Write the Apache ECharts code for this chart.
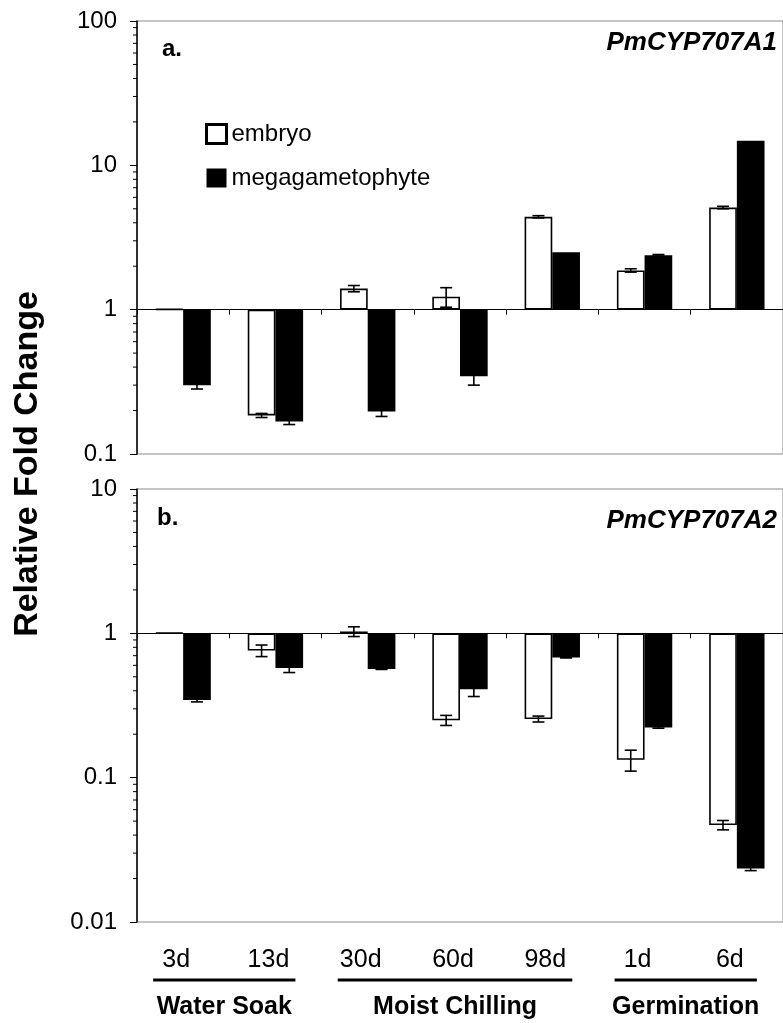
<!DOCTYPE html>
<html>
<head>
<meta charset="utf-8">
<script src="https://cdn.jsdelivr.net/npm/echarts@6/dist/echarts.min.js"></script>
<style>
  html, body { margin: 0; padding: 0; background: #fff; }
  #main { width: 783px; height: 1023px; }
</style>
</head>
<body>
<div id="main"></div>
<script>
// Sampling points (days in each treatment)
const categories = ['3d', '13d', '30d', '60d', '98d', '1d', '6d'];

// Treatment stages: name and first/last category index
const stageNames = ['Water Soak', 'Moist Chilling', 'Germination'];
const stageFirst = [0, 2, 5];
const stageLast = [1, 4, 6];

// Panel a: PmCYP707A1 relative fold change (mean and error)
const a1Embryo = [1.01, 0.185, 1.40, 1.23, 4.4, 1.87, 5.1];
const a1EmbryoErr = [0, 0.006, 0.07, 0.19, 0.08, 0.05, 0.1];
const a1Mega = [0.30, 0.168, 0.197, 0.345, 2.5, 2.38, 14.8];
const a1MegaErr = [0.018, 0.008, 0.015, 0.045, 0, 0.03, 0];

// Panel b: PmCYP707A2 relative fold change (mean and error)
const a2Embryo = [1.01, 0.76, 1.03, 0.25, 0.255, 0.133, 0.047];
const a2EmbryoErr = [0, 0.07, 0.08, 0.02, 0.012, 0.022, 0.0035];
const a2Mega = [0.345, 0.575, 0.567, 0.41, 0.68, 0.223, 0.0235];
const a2MegaErr = [0.01, 0.04, 0.005, 0.045, 0.005, 0.003, 0.0008];

// Log axis ranges for the two panels
const panelMin = [0.1, 0.01];
const panelMax = [100, 10];

const FONT = '"Liberation Sans", Arial, Helvetica, sans-serif';
const GRID_LEFT = 137, GRID_W = 653, GRID_H = 433;
const GRID_TOP = [21, 489];

// offset (px) that moves an x axis from the grid edge onto the value 1
function oneOffset(p, fromTop) {
  const lo = Math.log10(panelMin[p]), hi = Math.log10(panelMax[p]);
  const frac = fromTop ? (hi - 0) / (hi - lo) : (0 - lo) / (hi - lo);
  return -GRID_H * frac;
}

// minor log ticks (2..9 within each decade)
function minorTickValues(p) {
  const out = [];
  for (let e = Math.log10(panelMin[p]); e < Math.log10(panelMax[p]) - 1e-9; e++) {
    for (let m = 2; m <= 9; m++) out.push(m * Math.pow(10, e));
  }
  return out;
}

function errData(values, errs, side) {
  const out = [];
  values.forEach((v, i) => { if (errs[i] > 0) out.push([i, v, errs[i], side]); });
  return out;
}

function renderErr(params, api) {
  const cat = api.value(0), v = api.value(1), e = api.value(2), side = api.value(3);
  const band = api.coord([1, 1])[0] - api.coord([0, 1])[0];
  const hi = api.coord([cat, v + e]);
  const lo = api.coord([cat, v - e]);
  const x = hi[0] + side * band * 0.15;
  const cap = 6;
  const st = { stroke: '#000', lineWidth: 1.6 };
  return {
    type: 'group',
    children: [
      { type: 'line', shape: { x1: x, y1: hi[1], x2: x, y2: lo[1] }, style: st },
      { type: 'line', shape: { x1: x - cap, y1: hi[1], x2: x + cap, y2: hi[1] }, style: st },
      { type: 'line', shape: { x1: x - cap, y1: lo[1], x2: x + cap, y2: lo[1] }, style: st }
    ]
  };
}

function renderMinor(params, api) {
  const v = api.value(0);
  const band = api.coord([1, 1])[0] - api.coord([0, 1])[0];
  const pt = api.coord([0, v]);
  const x = pt[0] - band / 2;
  return { type: 'line', shape: { x1: x - 4, y1: pt[1], x2: x, y2: pt[1] }, style: { stroke: '#000', lineWidth: 1 } };
}

const embryoStyle = { color: '#fff', borderColor: '#000', borderWidth: 1.6 };
const megaStyle = { color: '#000' };

function barSeries(name, data, xi, style) {
  return {
    name: name, type: 'bar', xAxisIndex: xi, yAxisIndex: xi === 0 ? 0 : 1,
    data: data, barWidth: '30%', barGap: '0%', itemStyle: style,
    emphasis: { disabled: true }, animation: false, z: 2
  };
}

const yAxisCommon = {
  type: 'log', logBase: 10,
  axisLine: { show: true, lineStyle: { color: '#000', width: 1.5 } },
  axisTick: { show: true, length: 7, lineStyle: { color: '#000', width: 1 } },
  axisLabel: { fontSize: 24, color: '#000', margin: 20, fontFamily: FONT },
  splitLine: { show: false }
};

const option = {
  backgroundColor: '#fff',
  animation: false,
  grid: [
    { left: GRID_LEFT, top: GRID_TOP[0], width: GRID_W, height: GRID_H, show: true, borderColor: '#8a8a8a', borderWidth: 1 },
    { left: GRID_LEFT, top: GRID_TOP[1], width: GRID_W, height: GRID_H, show: true, borderColor: '#8a8a8a', borderWidth: 1 }
  ],
  legend: {
    orient: 'vertical', left: 205, top: 122, padding: 0,
    itemWidth: 20, itemHeight: 19, itemGap: 20,
    textStyle: { fontSize: 24, color: '#000', fontFamily: FONT },
    data: [
      { name: 'embryo', icon: 'rect', itemStyle: { color: '#fff', borderColor: '#000', borderWidth: 3 } },
      { name: 'megagametophyte', icon: 'rect', itemStyle: { color: '#000' } }
    ],
    selectedMode: false
  },
  xAxis: [
    {
      gridIndex: 0, type: 'category', data: categories, position: 'bottom', offset: oneOffset(0, false),
      axisLine: { onZero: false, lineStyle: { color: '#000', width: 1 } },
      axisTick: { show: true, inside: false, length: 5, lineStyle: { color: '#000' } },
      axisLabel: { show: false }, z: 5
    },
    {
      gridIndex: 1, type: 'category', data: categories, position: 'top', offset: oneOffset(1, true),
      axisLine: { onZero: false, lineStyle: { color: '#000', width: 1 } },
      axisTick: { show: true, inside: true, length: 5, lineStyle: { color: '#000' } },
      axisLabel: { show: false }, z: 5
    },
    {
      gridIndex: 1, type: 'category', data: categories, position: 'bottom',
      axisLine: { show: false, onZero: false }, axisTick: { show: false },
      axisLabel: { fontSize: 25, color: '#000', margin: 26, fontFamily: FONT, padding: [0, 14, 0, 0] }
    }
  ],
  yAxis: [
    Object.assign({}, yAxisCommon, { gridIndex: 0, min: panelMin[0], max: panelMax[0] }),
    Object.assign({}, yAxisCommon, { gridIndex: 1, min: panelMin[1], max: panelMax[1] })
  ],
  series: [
    barSeries('embryo', a1Embryo, 0, embryoStyle),
    barSeries('megagametophyte', a1Mega, 0, megaStyle),
    barSeries('embryo', a2Embryo, 1, embryoStyle),
    barSeries('megagametophyte', a2Mega, 1, megaStyle),
    { type: 'custom', xAxisIndex: 0, yAxisIndex: 0, renderItem: renderErr, data: errData(a1Embryo, a1EmbryoErr, -1), z: 4, silent: true },
    { type: 'custom', xAxisIndex: 0, yAxisIndex: 0, renderItem: renderErr, data: errData(a1Mega, a1MegaErr, 1), z: 4, silent: true },
    { type: 'custom', xAxisIndex: 1, yAxisIndex: 1, renderItem: renderErr, data: errData(a2Embryo, a2EmbryoErr, -1), z: 4, silent: true },
    { type: 'custom', xAxisIndex: 1, yAxisIndex: 1, renderItem: renderErr, data: errData(a2Mega, a2MegaErr, 1), z: 4, silent: true },
    { type: 'custom', xAxisIndex: 0, yAxisIndex: 0, renderItem: renderMinor, data: minorTickValues(0).map(v => [v]), encode: { y: 0 }, silent: true },
    { type: 'custom', xAxisIndex: 1, yAxisIndex: 1, renderItem: renderMinor, data: minorTickValues(1).map(v => [v]), encode: { y: 0 }, silent: true }
  ]
};

const chart = echarts.init(document.getElementById('main'), null, { renderer: 'canvas' });
chart.setOption(option);

// Panel letters, gene names, y-axis title and stage brackets under the x labels
const graphics = [
  { type: 'text', left: 162, top: 37, style: { text: 'a.', font: 'bold 24px ' + FONT, fill: '#000' } },
  { type: 'text', right: 6, top: 30, style: { text: 'PmCYP707A1', font: 'italic bold 26px ' + FONT, fill: '#000' } },
  { type: 'text', left: 157, top: 506, style: { text: 'b.', font: 'bold 24px ' + FONT, fill: '#000' } },
  { type: 'text', right: 6, top: 508, style: { text: 'PmCYP707A2', font: 'italic bold 26px ' + FONT, fill: '#000' } },
  {
    type: 'text', x: 28, y: 464, rotation: Math.PI / 2,
    style: { text: 'Relative Fold Change', font: 'bold 34px ' + FONT, fill: '#000', textAlign: 'center', textVerticalAlign: 'middle' }
  }
];
stageNames.forEach((name, i) => {
  const x0 = chart.convertToPixel({ xAxisIndex: 2 }, stageFirst[i]) - 30;
  const x1 = chart.convertToPixel({ xAxisIndex: 2 }, stageLast[i]) + 20;
  graphics.push({ type: 'line', shape: { x1: x0, y1: 980, x2: x1, y2: 980 }, style: { stroke: '#000', lineWidth: 3 } });
  graphics.push({
    type: 'text', x: (x0 + x1) / 2, y: 1007,
    style: { text: name, font: 'bold 25px ' + FONT, fill: '#000', textAlign: 'center', textVerticalAlign: 'middle' }
  });
});
chart.setOption({ graphic: graphics });
</script>
</body>
</html>
